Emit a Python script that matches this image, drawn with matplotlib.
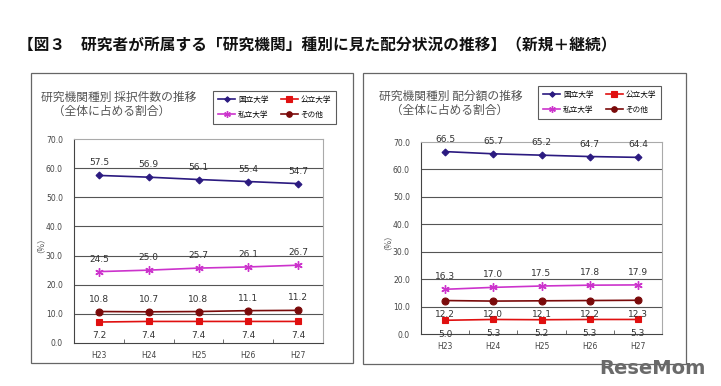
import matplotlib
matplotlib.use("Agg")
import matplotlib.pyplot as plt
from matplotlib.patches import Rectangle

plt.rcParams['font.family'] = ['Noto Sans CJK JP', 'DejaVu Sans']

years = ["H23", "H24", "H25", "H26", "H27"]
series_names = ["国立大学", "公立大学", "私立大学", "その他"]

# 採択件数 (left)
adopt_national = [57.5, 56.9, 56.1, 55.4, 54.7]
adopt_public = [7.2, 7.4, 7.4, 7.4, 7.4]
adopt_private = [24.5, 25.0, 25.7, 26.1, 26.7]
adopt_other = [10.8, 10.7, 10.8, 11.1, 11.2]

# 配分額 (right)
alloc_national = [66.5, 65.7, 65.2, 64.7, 64.4]
alloc_public = [5.0, 5.3, 5.2, 5.3, 5.3]
alloc_private = [16.3, 17.0, 17.5, 17.8, 17.9]
alloc_other = [12.2, 12.0, 12.1, 12.2, 12.3]

colors = ["#2B1A80", "#E01010", "#CC33CC", "#7A0A0A"]
markers = ["D", "s", (6, 2, 0), "o"]
msizes = [3.5, 5, 6, 5]

fig = plt.figure(figsize=(7.21, 3.86), dpi=100)
W, H = 721, 386

def fx(x):
    return x / W

def fy(y):
    return 1 - y / H

fig.text(fx(18), fy(45), "【図３　研究者が所属する「研究機関」種別に見た配分状況の推移】（新規＋継続）",
         fontsize=11.3, fontweight='bold', va='center', ha='left', color='#111111')

# panel boxes
for (x0, y0, x1, y1) in [(31, 73, 353, 363), (363, 73, 686, 364)]:
    fig.patches.append(Rectangle((fx(x0), fy(y1)), fx(x1 - x0), (y1 - y0) / H,
                                 transform=fig.transFigure, fill=False,
                                 edgecolor='#666666', lw=0.9))

def draw_panel(rect, data, label_pos, subtitle, sub_xy, legend_xy):
    ax = fig.add_axes(rect)
    x = list(range(len(years)))
    handles = []
    for i, (vals, pos) in enumerate(zip(data, label_pos)):
        h, = ax.plot(x, vals, color=colors[i], marker=markers[i], ms=msizes[i],
                     lw=1.2, mew=1.0 if i == 2 else 0.8, label=series_names[i],
                     zorder=3)
        handles.append(h)
        for xi, v in zip(x, vals):
            off = 9 if pos == 'above' else -10
            ax.annotate(f"{v:.1f}", (xi, v), xytext=(0, off), textcoords='offset points',
                        ha='center', va='center', fontsize=6.5, color='#333333',
                        family='DejaVu Sans')
    ax.set_xlim(-0.5, len(years) - 0.5)
    ax.set_ylim(0, 70)
    ax.set_yticks(range(0, 71, 10))
    ax.set_yticklabels([f"{v:.1f}" for v in range(0, 71, 10)], fontsize=5.5, color='#444444',
                       family='DejaVu Sans')
    ax.set_xticks(x)
    ax.set_xticklabels(years, fontsize=5.5, color='#444444', family='DejaVu Sans')
    ax.tick_params(axis='x', length=0, pad=6)
    ax.tick_params(axis='y', length=0, pad=8)
    ax.set_xticks([0.5, 1.5, 2.5, 3.5], minor=True)
    ax.tick_params(axis='x', which='minor', direction='in', length=3, color='#555555')
    for yv in range(10, 61, 10):
        ax.axhline(yv, color='#555555', lw=0.8, zorder=1)
    ax.spines['top'].set_color('#aaaaaa')
    ax.spines['right'].set_color('#aaaaaa')
    ax.spines['left'].set_color('#444444')
    ax.spines['bottom'].set_color('#444444')
    ax.set_ylabel("（%）", fontsize=6, color='#555555', labelpad=4)
    fig.text(fx(sub_xy[0]), fy(sub_xy[1]), subtitle, fontsize=8.5, color='#555555',
             ha='left', va='center', linespacing=1.1)
    leg = ax.legend(handles=[handles[0], handles[2], handles[1], handles[3]],
                    loc='upper left', bbox_to_anchor=(fx(legend_xy[0]), fy(legend_xy[1])),
                    bbox_transform=fig.transFigure, ncol=2, fontsize=5.5, frameon=True,
                    fancybox=False, edgecolor='#333333', handlelength=2.2, markerscale=0.8,
                    columnspacing=1.6, borderpad=0.7, labelspacing=0.9, handletextpad=0.4)
    leg.get_frame().set_linewidth(0.8)
    return ax

# left panel
draw_panel([fx(74), fy(343), fx(323 - 74), (343 - 139) / H],
           [adopt_national, adopt_public, adopt_private, adopt_other],
           ['above', 'below', 'above', 'above'],
           "研究機関種別 採択件数の推移\n　（全体に占める割合）", (41, 104), (209, 87))

# right panel
draw_panel([fx(421), fy(334), fx(662 - 421), (334 - 142) / H],
           [alloc_national, alloc_public, alloc_private, alloc_other],
           ['above', 'below', 'above', 'below'],
           "研究機関種別 配分額の推移\n　（全体に占める割合）", (379, 103), (534, 82))

fig.text(fx(706), fy(368), "ReseMom", fontsize=14, fontweight='bold', color='#6a6a6a',
         ha='right', va='center', family='DejaVu Sans')

fig.savefig("out.png", dpi=100)
